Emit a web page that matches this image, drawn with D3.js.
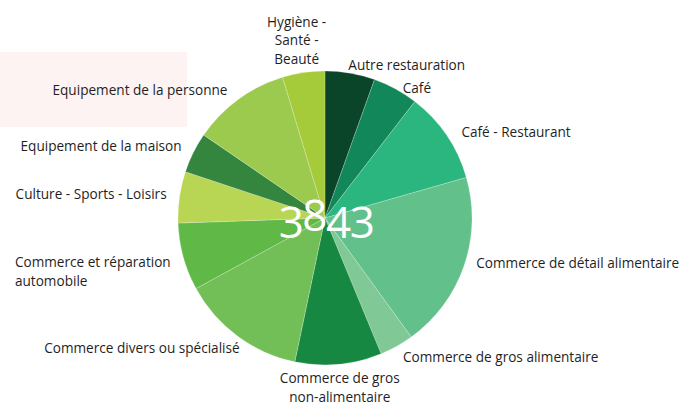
<!DOCTYPE html>
<html>
<head>
<meta charset="utf-8">
<script src="https://cdn.jsdelivr.net/npm/d3@7"></script>
<style>
  body { margin: 0; background: #fff; }
  svg { display: block; font-family: "Open Sans", "Noto Sans", sans-serif; }
</style>
</head>
<body>
<svg id="chart" width="686" height="405"></svg>
<script>
// slices, clockwise from 12 o'clock
const categories = [
  "Autre restauration",
  "Café",
  "Café - Restaurant",
  "Commerce de détail alimentaire",
  "Commerce de gros alimentaire",
  "Commerce de gros\nnon-alimentaire",
  "Commerce divers ou spécialisé",
  "Commerce et réparation\nautomobile",
  "Culture - Sports - Loisirs",
  "Equipement de la maison",
  "Equipement de la personne",
  "Hygiène -\nSanté -\nBeauté"
];
const values = [210, 192, 388, 748, 144, 366, 528, 285, 217, 171, 415, 179];
const colors = ["#0a4429", "#12885a", "#2bb57f", "#62c18a", "#80c997", "#178841",
                "#72bf58", "#60b946", "#b8d654", "#34853e", "#9cca4e", "#a5cb3a"];

function draw() {
  let svg = d3.select("#chart"),
      cx = 325, cy = 218, r = 147, lh = 18.5;

  // faint pink block left over from the slide background
  svg.append("rect").attr("x", 0).attr("y", 52).attr("width", 187).attr("height", 75).attr("fill", "#fdf3f3");

  let pie = d3.pie().sort(null).value(d => d),
      arcs = pie(values);

  let arc = d3.arc().innerRadius(0).outerRadius(r),
      labelArc = d3.arc().innerRadius(r + 13).outerRadius(r + 13);

  let g = svg.append("g").attr("transform", "translate(" + cx + "," + cy + ")");

  g.selectAll("path")
    .data(arcs)
    .enter().append("path")
    .attr("d", arc)
    .attr("fill", (d, i) => colors[i])
    .attr("stroke", "rgba(255,255,255,0.35)")
    .attr("stroke-width", 0.6);

  // small hand nudges, like the moved labels of the original
  let nudge = {0: [-4, 6], 1: [1, 11], 2: [4, 5], 3: [0, -6], 5: [0, -3], 6: [10, 3], 7: [0, 12], 10: [-3, 2], 11: [-5, 1]};

  let labels = g.append("g").attr("class", "labels")
    .selectAll("text")
    .data(arcs)
    .enter().append("text")
    .attr("font-size", 13.6)
    .attr("fill", "#1f1f1f");

  labels.each(function(d, i) {
    let t = d3.select(this),
        lines = categories[i].split("\n"),
        mid = (d.startAngle + d.endAngle) / 2,
        s = Math.sin(mid),
        p = labelArc.centroid(d),
        n = lines.length,
        nd = nudge[i] || [0, 0];

    let spans = t.selectAll("tspan").data(lines).enter().append("tspan").text(l => l);

    if (Math.abs(s) < 0.16) {
      // near top / bottom : centred block
      let y0 = p[1] < 0 ? p[1] + 3 - (n - 1) * lh : p[1] + 9;
      t.attr("text-anchor", "middle");
      spans.attr("x", p[0] + nd[0]).attr("y", (l, k) => y0 + nd[1] + k * lh);
    } else {
      let y0 = p[1] + 4 - (n - 1) * lh / 2;
      let x0 = p[0];
      if (s < 0) {
        // left side, block aligned left inside its box
        let w = 0;
        spans.each(function() { w = Math.max(w, this.getComputedTextLength()); });
        x0 = p[0] - w;
      }
      spans.attr("x", x0 + nd[0]).attr("y", (l, k) => y0 + nd[1] + k * lh);
    }
  });

  // total in the centre
  let total = String(d3.sum(values));
  let tt = svg.append("text")
    .attr("x", cx + 1).attr("y", cy + 20)
    .attr("text-anchor", "middle")
    .attr("font-size", 44)
    .attr("letter-spacing", -1.5)
    .attr("fill", "#fff");
  total.split("").forEach((ch, k) => {
    tt.append("tspan").attr("dy", k == 1 ? -7 : (k == 2 ? 7 : 0)).text(ch);
  });
}

document.addEventListener("DOMContentLoaded", draw);
</script>
</body>
</html>
